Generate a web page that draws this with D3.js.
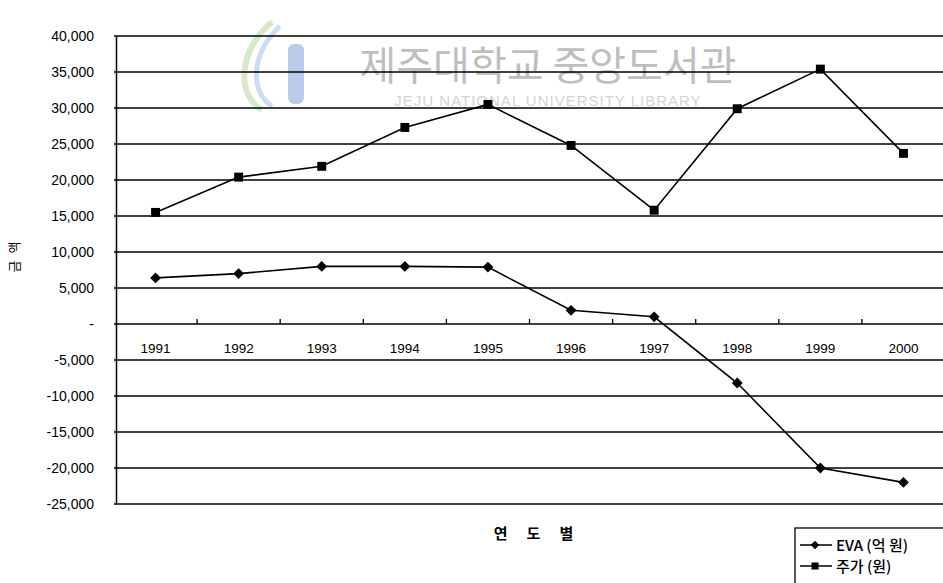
<!DOCTYPE html>
<html>
<head>
<meta charset="utf-8">
<script src="https://cdn.jsdelivr.net/npm/d3@7"></script>
<style>
  body { margin: 0; background: #fff; }
  svg { display: block; font-family: "Liberation Sans", Arial, sans-serif; }
  .kr { font-family: "Noto Sans CJK KR", sans-serif; }
</style>
</head>
<body>
<svg class="chart" width="943" height="583"></svg>
<script>
// data
const years = ["1991", "1992", "1993", "1994", "1995", "1996", "1997", "1998", "1999", "2000"]
const evaValues = [6400, 7000, 8000, 8000, 7900, 1900, 1000, -8200, -20000, -22000]
const priceValues = [15500, 20400, 21900, 27300, 30500, 24800, 15800, 29900, 35400, 23700]
const yTicks = [40000, 35000, 30000, 25000, 20000, 15000, 10000, 5000, 0, -5000, -10000, -15000, -20000, -25000]
const seriesNames = ["EVA (억 원)", "주가 (원)"]

const svg = d3.select("svg.chart")

// plot area
const plotLeft = 114, plotRight = 945, plotTop = 36, plotBottom = 504

const scaleX = d3.scaleBand()
    .domain(years)
    .range([plotLeft, plotRight])

const scaleY = d3.scaleLinear()
    .domain([-25000, 40000])
    .range([plotBottom, plotTop])

const numFormat = d3.format(",")

// watermark (scan artefact in the reference)
const wm = svg.append("g").attr("opacity", 0.55)
wm.append("path")
    .attr("d", "M272,22 C238,50 236,95 262,110")
    .attr("fill", "none")
    .attr("stroke", "#b9d7a0")
    .attr("stroke-width", 6)
wm.append("path")
    .attr("d", "M280,26 C250,55 250,92 272,106")
    .attr("fill", "none")
    .attr("stroke", "#9fc3e6")
    .attr("stroke-width", 5)
wm.append("rect")
    .attr("x", 288).attr("y", 44)
    .attr("width", 16).attr("height", 60)
    .attr("rx", 6)
    .attr("fill", "#7da6d8")
wm.append("text")
    .attr("class", "kr")
    .attr("x", 548).attr("y", 80)
    .attr("text-anchor", "middle")
    .attr("font-size", "40px")
    .attr("fill", "#8a8a8a")
    .text("제주대학교 중앙도서관")
wm.append("text")
    .attr("x", 548).attr("y", 106)
    .attr("text-anchor", "middle")
    .attr("font-size", "15px")
    .attr("letter-spacing", "1px")
    .attr("fill", "#b0b0b0")
    .text("JEJU NATIONAL UNIVERSITY LIBRARY")

// horizontal gridlines
svg.append("g")
    .selectAll("line")
    .data(yTicks)
    .enter().append("line")
    .attr("x1", plotLeft)
    .attr("x2", plotRight)
    .attr("y1", d => scaleY(d))
    .attr("y2", d => scaleY(d))
    .attr("stroke", "#000")
    .attr("stroke-width", 1.3)

// y axis
const axisY = d3.axisLeft(scaleY)
    .tickValues(yTicks)
    .tickSize(0)
    .tickPadding(22)
    .tickFormat(d => d === 0 ? "-" : numFormat(d).replace("−", "-"))
const axisYGroup = svg.append("g")
    .attr("transform", `translate(${plotLeft + 2}, 0)`)
    .call(axisY)
axisYGroup.select(".domain").attr("stroke-width", 1.5)
axisYGroup.selectAll(".tick text")
    .style("font-size", "14px")
    .attr("fill", "#000")

// x axis on the zero line, ticks at band boundaries pointing up
const axisXGroup = svg.append("g")
    .attr("transform", `translate(0, ${scaleY(0)})`)
axisXGroup.selectAll("line")
    .data(years.slice(1))
    .enter().append("line")
    .attr("x1", d => scaleX(d))
    .attr("x2", d => scaleX(d))
    .attr("y1", 0)
    .attr("y2", -5)
    .attr("stroke", "#000")
    .attr("stroke-width", 1.3)
axisXGroup.selectAll("text")
    .data(years)
    .enter().append("text")
    .attr("x", d => scaleX(d) + scaleX.bandwidth() / 2)
    .attr("y", 29)
    .attr("text-anchor", "middle")
    .attr("font-size", "13.5px")
    .text(d => d)

// axis titles
svg.append("text")
    .attr("class", "kr")
    .attr("transform", "translate(19, 256) rotate(-90)")
    .attr("text-anchor", "middle")
    .attr("font-size", "13px")
    .attr("letter-spacing", "2px")
    .text("금 액")

svg.append("text")
    .attr("class", "kr")
    .attr("x", 543)
    .attr("y", 539)
    .attr("text-anchor", "middle")
    .attr("font-size", "15px")
    .attr("font-weight", "bold")
    .attr("letter-spacing", "19px")
    .text("연도별")

// lines
const line = d3.line()
    .x((d, i) => scaleX(years[i]) + scaleX.bandwidth() / 2)
    .y(d => scaleY(d))

const series = [evaValues, priceValues]

svg.append("g")
    .selectAll("path")
    .data(series)
    .enter().append("path")
    .attr("d", d => line(d))
    .attr("fill", "none")
    .attr("stroke", "#000")
    .attr("stroke-width", 1.6)

// markers
const diamond = d3.symbol().type(d3.symbolDiamond2).size(75)
const square = d3.symbol().type(d3.symbolSquare).size(80)

svg.append("g")
    .selectAll("path")
    .data(evaValues)
    .enter().append("path")
    .attr("d", diamond)
    .attr("transform", (d, i) => `translate(${scaleX(years[i]) + scaleX.bandwidth() / 2}, ${scaleY(d)})`)
    .attr("fill", "#000")

svg.append("g")
    .selectAll("path")
    .data(priceValues)
    .enter().append("path")
    .attr("d", square)
    .attr("transform", (d, i) => `translate(${scaleX(years[i]) + scaleX.bandwidth() / 2}, ${scaleY(d)})`)
    .attr("fill", "#000")

// legend
const legend = svg.append("g").attr("transform", "translate(795, 528)")
legend.append("rect")
    .attr("x", 0).attr("y", 0)
    .attr("width", 160).attr("height", 70)
    .attr("fill", "#fff")
    .attr("stroke", "#000")
    .attr("stroke-width", 1.3)

const legendRows = legend.selectAll("g")
    .data(seriesNames)
    .enter().append("g")
    .attr("transform", (d, i) => `translate(0, ${17 + i * 21})`)
legendRows.append("line")
    .attr("x1", 5).attr("x2", 37)
    .attr("y1", 0).attr("y2", 0)
    .attr("stroke", "#000")
    .attr("stroke-width", 1.5)
legendRows.append("path")
    .attr("d", (d, i) => i === 0 ? d3.symbol().type(d3.symbolDiamond2).size(45)() : d3.symbol().type(d3.symbolSquare).size(50)())
    .attr("transform", "translate(20, 0)")
    .attr("fill", "#000")
legendRows.append("text")
    .attr("class", "kr")
    .attr("x", 41)
    .attr("y", 6)
    .attr("font-size", "15px")
    .attr("font-weight", "500")
    .text(d => d)
</script>
</body>
</html>
